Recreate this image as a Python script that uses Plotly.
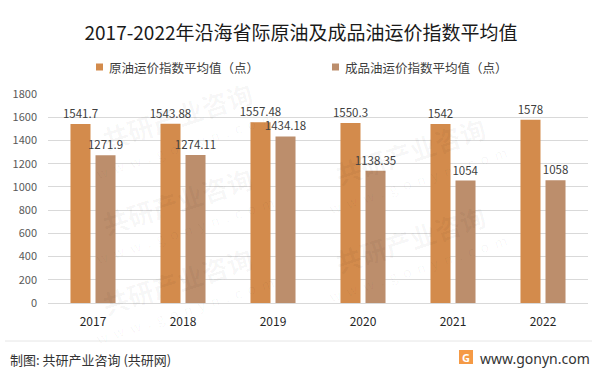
import plotly.graph_objects as go

years = ["2017", "2018", "2019", "2020", "2021", "2022"]
crude_oil = [1541.7, 1543.88, 1557.48, 1550.3, 1542, 1578]
product_oil = [1271.9, 1274.11, 1434.18, 1138.35, 1054, 1058]
series_names = ["原油运价指数平均值（点）", "成品油运价指数平均值（点）"]
series_colors = ["#D38B4C", "#BC8E6C"]
title_text = "2017-2022年沿海省际原油及成品油运价指数平均值"
source_text = "制图: 共研产业咨询 (共研网)"
site_text = "www.gonyn.com"

W, H = 599, 374
PL, PR, PT, PB = 48, 588, 94, 303
FONT = "Noto Sans CJK SC"


def px2x(px):
    return (px - PL) / (PR - PL)


def py2y(py):
    return (PB - py) / (PB - PT)


fig = go.Figure()
for name, vals, col in zip(series_names, [crude_oil, product_oil], series_colors):
    fig.add_trace(go.Bar(
        x=years, y=vals, name=name,
        marker=dict(color=col, line=dict(width=0)),
        text=[f"{v:g}" for v in vals],
        textposition="outside",
        constraintext="none",
        cliponaxis=False,
        textfont=dict(family=FONT, size=11.5, color="#404040"),
        showlegend=False,
    ))

shapes = []
annotations = []

# watermarks (faint), kept fully inside the page
wm_color = "rgba(0,0,0,0.035)"
wm_pos = [(177, 115), (177, 200), (177, 280), (410, 150), (410, 238)]
for (cx, cy) in wm_pos:
    annotations.append(dict(
        text="<b>共研产业咨询</b>", x=px2x(cx), y=py2y(cy), xref="paper", yref="paper",
        showarrow=False, textangle=-18, font=dict(family=FONT, size=26, color=wm_color),
        xanchor="center", yanchor="middle"))
    annotations.append(dict(
        text="w  w  w  .  g  o  n  y  n  .  c  o  m", x=px2x(cx + 8), y=py2y(cy + 30),
        xref="paper", yref="paper", showarrow=False, textangle=-18,
        font=dict(family=FONT, size=14, color=wm_color), xanchor="center", yanchor="middle"))

# legend (manual)
leg_marker_x = [96, 332]
leg_text_x = [107, 343]
for i in range(2):
    shapes.append(dict(type="rect", xref="paper", yref="paper",
                       x0=px2x(leg_marker_x[i]), x1=px2x(leg_marker_x[i] + 7),
                       y0=py2y(70.5), y1=py2y(63.5),
                       fillcolor=series_colors[i], line=dict(width=0)))
    annotations.append(dict(text=series_names[i], x=px2x(leg_text_x[i]), y=py2y(67),
                            xref="paper", yref="paper", showarrow=False,
                            xanchor="left", yanchor="middle",
                            font=dict(family=FONT, size=12.5, color="#404040")))

# footer separator line
shapes.append(dict(type="line", xref="paper", yref="paper",
                   x0=px2x(5), x1=px2x(592), y0=py2y(341), y1=py2y(341),
                   line=dict(color="#E6E6E6", width=1)))
annotations.append(dict(text=source_text, x=px2x(8), y=py2y(359), xref="paper", yref="paper",
                        showarrow=False, xanchor="left", yanchor="middle",
                        font=dict(family=FONT, size=13, color="#333333")))
annotations.append(dict(text=site_text, x=px2x(592), y=py2y(358), xref="paper", yref="paper",
                        showarrow=False, xanchor="right", yanchor="middle",
                        font=dict(family="Noto Sans", size=14, color="#333333")))
# logo
shapes.append(dict(type="rect", xref="paper", yref="paper",
                   x0=px2x(459), x1=px2x(473), y0=py2y(364), y1=py2y(350),
                   fillcolor="#F59A45", line=dict(width=0)))
annotations.append(dict(text="<b>G</b>", x=px2x(466), y=py2y(357), xref="paper", yref="paper",
                        showarrow=False, xanchor="center", yanchor="middle",
                        font=dict(family="Noto Sans", size=11, color="white")))

fig.update_layout(
    width=W, height=H,
    margin=dict(l=PL, r=W - PR, t=PT, b=H - PB, pad=0),
    paper_bgcolor="white", plot_bgcolor="white",
    barmode="group", bargap=0.444, bargroupgap=0.2,
    title=dict(text=title_text, x=301 / W, xref="container", xanchor="center",
               y=1 - 33 / H, yref="container", yanchor="middle",
               font=dict(family=FONT, size=19, color="#1A1A1A")),
    shapes=shapes, annotations=annotations,
    font=dict(family=FONT),
)
fig.update_yaxes(range=[0, 1800], dtick=200, showgrid=True, gridcolor="#D9D9D9", gridwidth=1,
                 zeroline=False, showline=False, ticks="",
                 tickfont=dict(family=FONT, size=11, color="#595959"),
                 ticklabelstandoff=10)
fig.update_xaxes(showline=True, linecolor="#D9D9D9", linewidth=1, ticks="",
                 tickfont=dict(family=FONT, size=12, color="#262626"),
                 ticklabelstandoff=8)

fig.write_html("out.html", config={"displayModeBar": False},
               post_script="document.body.style.margin='0';document.body.style.padding='0';")
